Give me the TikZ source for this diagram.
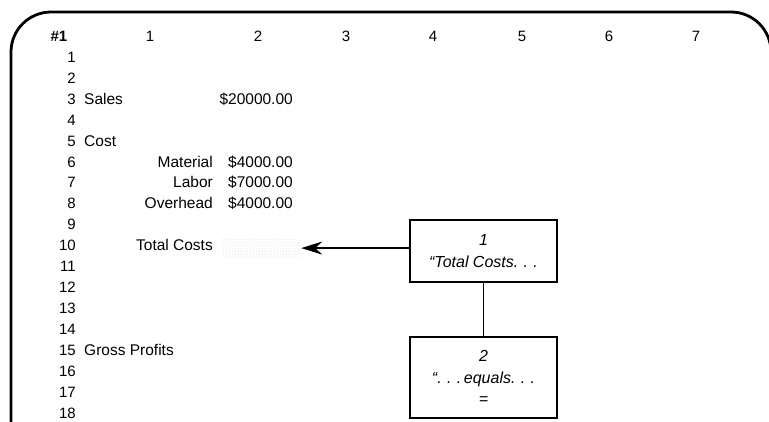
\documentclass[tikz,border=0pt]{standalone}
\usepackage{fontspec}
\setmainfont{Liberation Sans}
\usetikzlibrary{arrows.meta, patterns, positioning}

\tikzset{
  % outline of the sheet
  sheet/.style={line width=2.8pt, rounded corners=40pt},
  % column numbers across the top
  colhead/.style={font=\fontsize{15}{17}\selectfont, anchor=mid},
  % row numbers down the left
  rownum/.style={font=\fontsize{15}{17}\selectfont, anchor=mid east, inner sep=0pt},
  % cell texts
  cell/.style={font=\fontsize{15.5}{17}\selectfont, inner sep=0pt},
  % the still empty cell
  blankcell/.style={pattern=crosshatch dots, pattern color=gray!22,
    minimum width=78pt, minimum height=18pt, inner sep=0pt},
  % step boxes
  stepbox/.style={draw, line width=1.8pt, minimum width=147pt,
    align=center, font=\fontsize{16}{21.5}\selectfont\itshape},
  pointer/.style={-{Stealth[length=21pt, width=13pt]}, line width=1.7pt},
  link/.style={line width=1.7pt}
}

\begin{document}
\begin{tikzpicture}[x=1pt, y=-1pt]
  \useasboundingbox (0,0) rectangle (769,421);

  % frame
  \draw[sheet] (11,440) |- (771,12) -- (771,440);

  % header line
  \node[colhead] (hash) at (59,39) {\textbf{\#1}};
  \foreach \c/\x in {1/150,2/258,3/346,4/433,5/522,6/609,7/696}
    \node[colhead] (c\c) at (\x,39) {\c};

  % row numbers
  \foreach \r in {1,...,18}
    \node[rownum] (r\r) at (76,{59.8+(\r-1)*20.92}) {\r};

  % labels and values
  \node[cell, anchor=mid west] (sales) at (84,0 |- r3.mid) {Sales};
  \node[cell, anchor=mid east] (salesval) at (293,0 |- r3.mid) {\$20000.00};
  \node[cell, anchor=mid west] (cost) at (84,0 |- r5.mid) {Cost};
  \node[cell, anchor=mid east] (material) at (213,0 |- r6.mid) {Material};
  \node[cell, anchor=mid east] (materialval) at (293,0 |- r6.mid) {\$4000.00};
  \node[cell, anchor=mid east] (labor) at (213,0 |- r7.mid) {Labor};
  \node[cell, anchor=mid east] (laborval) at (293,0 |- r7.mid) {\$7000.00};
  \node[cell, anchor=mid east] (overhead) at (213,0 |- r8.mid) {Overhead};
  \node[cell, anchor=mid east] (overheadval) at (293,0 |- r8.mid) {\$4000.00};
  \node[cell, anchor=mid east] (total) at (213,0 |- r10.mid) {Total Costs};
  \node[blankcell] (totalval) at (262,0 |- r10.mid) {};
  \node[cell, anchor=mid west] (gross) at (84,0 |- r15.mid) {Gross Profits};

  % steps
  \node[stepbox, minimum height=62pt] (step1) at (483.5,251)
    {1\\“Total Costs.\,\,.\,\,.};
  \node[stepbox, minimum height=81pt] (step2) at (483.5,377.5)
    {2\\“.\,\,.\,\,.\,equals.\,\,.\,\,.\\=};

  \draw[pointer] (step1.west |- totalval.east) -- (totalval.east);
  \draw[link] (step1.south) -- (step2.north);
\end{tikzpicture}
\end{document}
